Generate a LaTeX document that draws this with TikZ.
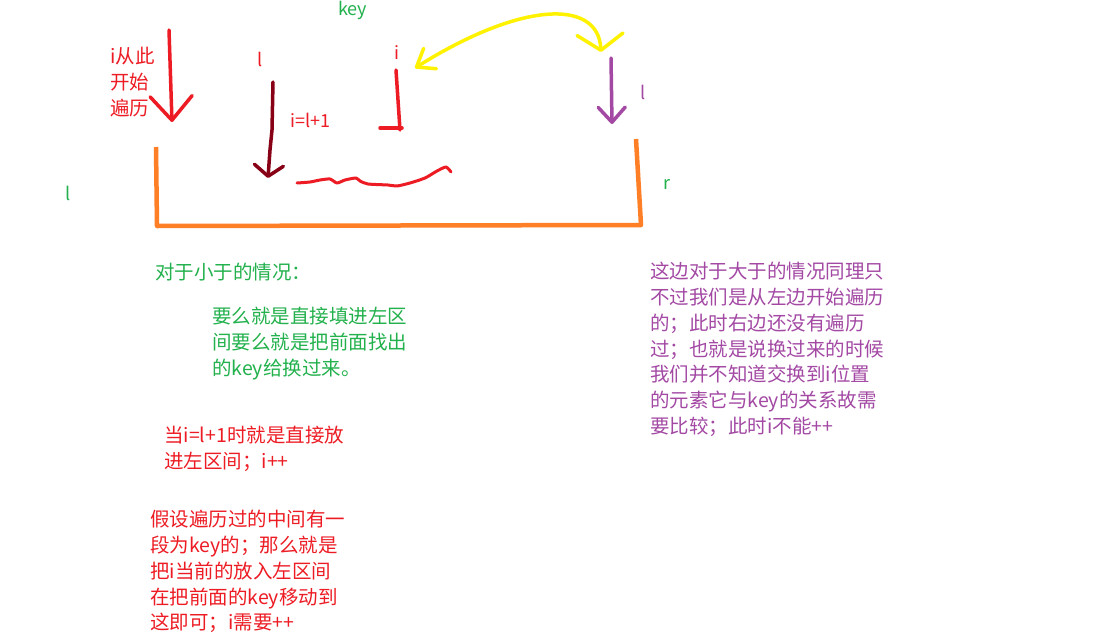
\documentclass[tikz,border=0pt]{standalone}
\usepackage{fontspec}
\setmainfont{Noto Sans CJK SC}
\usetikzlibrary{arrows.meta,positioning,calc}
\definecolor{pred}{HTML}{ED1C24}
\definecolor{pdarkred}{HTML}{880015}
\definecolor{porange}{HTML}{FF7F27}
\definecolor{pyellow}{HTML}{FFF200}
\definecolor{pgreen}{HTML}{22B14C}
\definecolor{ppurple}{HTML}{A349A4}
\tikzset{
  note/.style={anchor=north west, inner sep=0pt, align=left, font=\fontsize{19.5}{25.8}\selectfont},
  lbl/.style={note, font=\fontsize{18}{24}\selectfont},
  stroke/.style={line width=3.5pt, line cap=round, line join=round},
}

\begin{document}
\begin{tikzpicture}[x=1pt, y=-1pt]
  \fill[white] (0,0) rectangle (1093,640);
  \useasboundingbox (0,0) rectangle (1093,640);

  % labels
  \node[lbl, text=pgreen] (keylbl) at (338,1) {key};
  \node[note, text=pred] (istart) at (110,47) {i从此\\开始\\遍历};
  \node[lbl, text=pred] (llbl) at (257,52) {l};
  \node[lbl, text=pred] (ieq) at (290,113) {i=l+1};
  \node[lbl, text=pred] (ilbl) at (394,45) {i};
  \node[lbl, text=ppurple] (lpurple) at (640,85) {l};
  \node[lbl, text=pgreen] (lgreen) at (65,186) {l};
  \node[lbl, text=pgreen] (rgreen) at (663,179) {r};

  % arrows
  \coordinate (redtop) at (169,30);
  \coordinate (redtip) at (172,122);
  \draw[stroke, pred, -{Straight Barb[round,length=24pt,width=42pt]}] (redtop) -- (redtip);

  \coordinate (darktop) at (273,82);
  \coordinate (darktip) at (268,178);
  \draw[stroke, pdarkred, -{Straight Barb[round,length=11pt,width=29pt]}] (darktop) -- (272,130) -- (270,150) -- (darktip);

  \coordinate (purtop) at (611,58);
  \coordinate (purtip) at (612,124);
  \draw[stroke, ppurple, -{Straight Barb[round,length=15pt,width=27pt]}] (purtop) -- (purtip);

  \coordinate (ylwstart) at (601,52);
  \coordinate (ylwend) at (415,68);
  \draw[stroke, pyellow, {Straight Barb[round,length=16pt,width=46pt]}-{Straight Barb[round,length=16pt,width=24pt]}]
    (ylwstart) .. controls (598,-2) and (520,2) .. (ylwend);

  % red marks
  \draw[stroke, pred] (396,70) -- (398,100) -- (400,130);
  \draw[stroke, pred] (380,128) -- (402,128);
  \draw[stroke, pred, line width=3pt] plot[smooth, tension=0.4] coordinates {
    (297,183) (310,182) (320,180) (330,179) (337,183) (345,180) (356,178) (360,181)
    (368,184) (388,185) (397,186) (410,183) (425,178) (437,171) (446,167) (451,172)};

  % interval
  \draw[stroke, porange, line width=4.5pt, line cap=butt] (156,147) -- (157,226) -- (641,225) -- (636,139);

  % notes
  \node[note, text=pgreen] (smallcase) at (155,263) {对于小于的情况：};
  \node[note, text=pgreen] (smallnote) at (212,307) {要么就是直接填进左区\\间要么就是把前面找出\\的key给换过来。};
  \node[note, text=pred] (eqnote) at (164,426) {当i=l+1时就是直接放\\进左区间；i++};
  \node[note, text=pred] (midnote) at (150,510) {假设遍历过的中间有一\\段为key的；那么就是\\把i当前的放入左区间\\在把前面的key移动到\\这即可；i需要++};
  \node[note, text=ppurple] (bignote) at (650,262) {这边对于大于的情况同理只\\不过我们是从左边开始遍历\\的；此时右边还没有遍历\\过；也就是说换过来的时候\\我们并不知道交换到i位置\\的元素它与key的关系故需\\要比较；此时i不能++};
\end{tikzpicture}
\end{document}
